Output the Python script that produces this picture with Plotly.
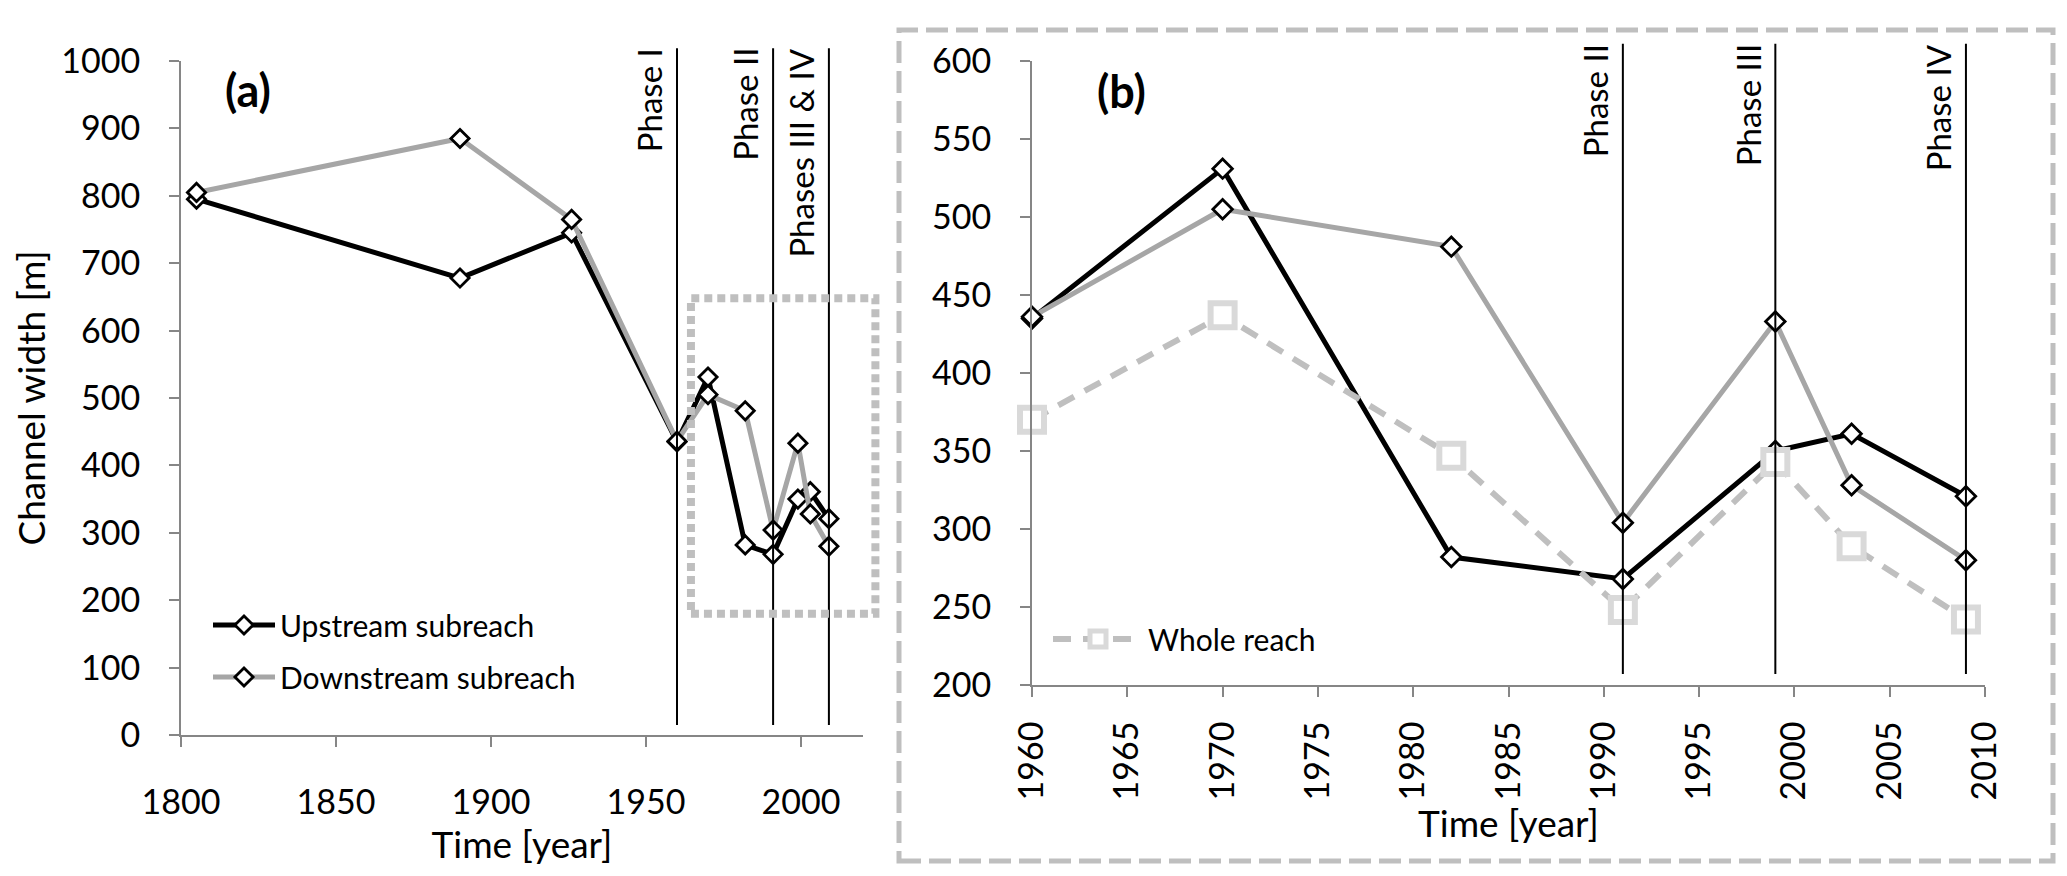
import plotly.graph_objects as go

# channel width [m]
years_early = [1805, 1890, 1926]
years_recent = [1960, 1970, 1982, 1991, 1999, 2003, 2009]
upstream_early = [795, 678, 745]
downstream_early = [805, 885, 765]
upstream_recent = [435, 531, 282, 268, 350, 361, 321]
downstream_recent = [436, 505, 481, 304, 433, 328, 280]
whole_reach = [370, 437, 347, 248, 343, 289, 242]

phase_years_a = [1960, 1991, 2009]
phase_labels_a = ["Phase I", "Phase II", "Phases III & IV"]
phase_years_b = [1991, 1999, 2009]
phase_labels_b = ["Phase II", "Phase III", "Phase IV"]

W, H = 2067, 876
FONT = "Lato"
BLACK = "#000000"
GREY_LINE = "#a6a6a6"
LIGHT_LINE = "#bfbfbf"
LIGHT_MARK = "#d9d9d9"
AXIS = "#868686"

# plot areas in pixels (left, right, bottom, top)
A_BOX = (173, 855, 727, 53)
B_BOX = (1024, 1977, 677, 53)
A_XR, A_YR = [1800, 2020], [0, 1000]
B_XR, B_YR = [1960, 2010], [200, 600]


def px_x(p):
    return p / W


def px_y(p):
    return 1 - p / H


def to_paper(v, rng, dom):
    # data value -> paper fraction for one axis
    return dom[0] + (v - rng[0]) / (rng[1] - rng[0]) * (dom[1] - dom[0])


a_xdom = [px_x(A_BOX[0]), px_x(A_BOX[1])]
a_ydom = [px_y(A_BOX[2]), px_y(A_BOX[3])]
b_xdom = [px_x(B_BOX[0]), px_x(B_BOX[1])]
b_ydom = [px_y(B_BOX[2]), px_y(B_BOX[3])]


def diamond(size):
    return dict(symbol="diamond", size=size, color="white", line=dict(color=BLACK, width=2.8))


fig = go.Figure()

# panel (a): full record
fig.add_trace(go.Scatter(
    x=years_early + years_recent, y=upstream_early + upstream_recent,
    mode="lines+markers", name="Upstream subreach",
    line=dict(color=BLACK, width=5), marker=diamond(14), cliponaxis=False,
    xaxis="x", yaxis="y", legend="legend", legendgroup="up"
))
fig.add_trace(go.Scatter(
    x=years_early + years_recent, y=downstream_early + downstream_recent,
    mode="lines+markers", name="Downstream subreach",
    line=dict(color=GREY_LINE, width=5), marker=diamond(14), cliponaxis=False,
    xaxis="x", yaxis="y", legend="legend", legendgroup="down"
))

# panel (b): zoom on 1960-2010
fig.add_trace(go.Scatter(
    x=years_recent, y=upstream_recent, mode="lines+markers",
    line=dict(color=BLACK, width=5), marker=diamond(15), cliponaxis=False,
    xaxis="x2", yaxis="y2", showlegend=False
))
fig.add_trace(go.Scatter(
    x=years_recent, y=downstream_recent, mode="lines+markers",
    line=dict(color=GREY_LINE, width=5), marker=diamond(15), cliponaxis=False,
    xaxis="x2", yaxis="y2", showlegend=False
))
fig.add_trace(go.Scatter(
    x=years_recent, y=whole_reach, mode="lines+markers", name="Whole reach",
    line=dict(color=LIGHT_LINE, width=6, dash="18px,12px"),
    marker=dict(symbol="square", size=24, color="white", line=dict(color=LIGHT_MARK, width=6)),
    cliponaxis=False, xaxis="x2", yaxis="y2", legend="legend2"
))

axis_style = dict(
    showline=True, linecolor=AXIS, linewidth=2, ticks="outside", ticklen=10,
    tickwidth=2, tickcolor=AXIS, showgrid=False, zeroline=False, automargin=False,
    tickfont=dict(size=34, color=BLACK, family=FONT)
)
title_font = dict(size=37, color=BLACK, family=FONT)
phase_font = dict(size=33, color=BLACK, family=FONT)

shapes = []
annotations = []

# phase lines and labels
for yr, lab in zip(phase_years_a, phase_labels_a):
    xp = to_paper(yr, A_XR, a_xdom)
    y0 = to_paper(15, A_YR, a_ydom)
    y1 = to_paper(1019, A_YR, a_ydom)
    shapes.append(dict(type="line", xref="paper", yref="paper", x0=xp, x1=xp, y0=y0, y1=y1,
                       line=dict(color=BLACK, width=2)))
    annotations.append(dict(x=xp, y=y1, xref="paper", yref="paper", text=lab, textangle=-90,
                            xanchor="right", yanchor="top", xshift=-6, yshift=2,
                            showarrow=False, font=phase_font))
for yr, lab in zip(phase_years_b, phase_labels_b):
    xp = to_paper(yr, B_XR, b_xdom)
    y0 = to_paper(207, B_YR, b_ydom)
    y1 = to_paper(611, B_YR, b_ydom)
    shapes.append(dict(type="line", xref="paper", yref="paper", x0=xp, x1=xp, y0=y0, y1=y1,
                       line=dict(color=BLACK, width=2)))
    annotations.append(dict(x=xp, y=y1, xref="paper", yref="paper", text=lab, textangle=-90,
                            xanchor="right", yanchor="top", xshift=-6, yshift=2,
                            showarrow=False, font=phase_font))

# dotted box marking the zoomed part in (a)
shapes.append(dict(
    type="rect", xref="paper", yref="paper",
    x0=to_paper(1964.5, A_XR, a_xdom), x1=to_paper(2024, A_XR, a_xdom),
    y0=to_paper(180, A_YR, a_ydom), y1=to_paper(648, A_YR, a_ydom),
    line=dict(color=LIGHT_LINE, width=8, dash="8px,5px")
))
# dashed frame around (b)
shapes.append(dict(
    type="rect", xref="paper", yref="paper",
    x0=px_x(891), x1=px_x(2045), y0=px_y(853), y1=px_y(22),
    line=dict(color=LIGHT_LINE, width=5, dash="22px,8px")
))

annotations.append(dict(x=1821.6, y=957, xref="x", yref="y", text="<b>(a)</b>", showarrow=False,
                        font=dict(size=45, color=BLACK, family=FONT)))
annotations.append(dict(x=1964.7, y=581, xref="x2", yref="y2", text="<b>(b)</b>", showarrow=False,
                        font=dict(size=45, color=BLACK, family=FONT)))

fig.update_layout(
    width=W, height=H,
    margin=dict(l=0, r=0, t=0, b=0, autoexpand=False),
    paper_bgcolor="white", plot_bgcolor="white",
    font=dict(family=FONT, color=BLACK),
    xaxis=dict(axis_style, domain=a_xdom, range=A_XR, anchor="y", tick0=1800, dtick=50,
               ticklabelstandoff=26,
               title=dict(text="Time [year]", font=title_font, standoff=0)),
    yaxis=dict(axis_style, domain=a_ydom, range=A_YR, anchor="x", dtick=100,
               ticklabelstandoff=22,
               title=dict(text="Channel width [m]", font=title_font, standoff=4)),
    xaxis2=dict(axis_style, domain=b_xdom, range=B_XR, anchor="y2", tick0=1960, dtick=5,
                tickangle=-90, ticklabelstandoff=11,
                title=dict(text="Time [year]", font=title_font, standoff=0)),
    yaxis2=dict(axis_style, domain=b_ydom, range=B_YR, anchor="x2", dtick=50,
                ticklabelstandoff=22),
    legend=dict(x=px_x(200), y=px_y(591), xanchor="left", yanchor="top",
                bgcolor="rgba(0,0,0,0)", font=dict(size=30, color=BLACK),
                itemwidth=62, tracegroupgap=10),
    legend2=dict(x=px_x(1040), y=px_y(605), xanchor="left", yanchor="top",
                 bgcolor="rgba(0,0,0,0)", font=dict(size=30, color=BLACK),
                 itemwidth=90),
    shapes=shapes,
    annotations=annotations,
)

fig.write_html("out.html")
